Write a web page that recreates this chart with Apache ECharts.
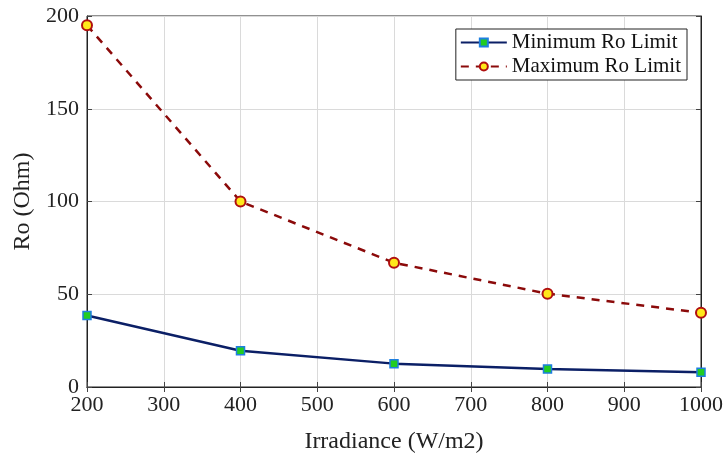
<!DOCTYPE html>
<html>
<head>
<meta charset="utf-8">
<script src="https://cdn.jsdelivr.net/npm/echarts@6/dist/echarts.min.js"></script>
<style>html,body{margin:0;padding:0;background:#fff;}#c{width:726px;height:459px;}</style>
</head>
<body>
<div id="c"></div>
<script>
const irradiance = [200, 400, 600, 800, 1000];
const minRo = [38.5, 19.5, 12.6, 9.7, 7.9];
const maxRo = [195, 100, 67, 50.3, 40];
const seriesNames = ['Minimum Ro Limit', 'Maximum Ro Limit'];
const xTitle = 'Irradiance (W/m2)';
const yTitle = 'Ro (Ohm)';

const font = 'Liberation Serif';
const chart = echarts.init(document.getElementById('c'));
const pairs = a => irradiance.map((x, i) => [x, a[i]]);
const gridLine = { show: true, lineStyle: { color: '#dadada', width: 1 } };
const plain = v => String(v);
chart.setOption({
  animation: false,
  backgroundColor: '#fff',
  grid: { left: 87, right: 25, top: 16, bottom: 72, show: true, borderColor: '#222', borderWidth: 1 },
  legend: {
    right: 39, top: 29,
    orient: 'vertical',
    backgroundColor: '#fff',
    borderColor: '#222', borderWidth: 1,
    padding: [3, 6, 3, 4],
    itemGap: 3,
    itemWidth: 46, itemHeight: 10,
    textStyle: { fontFamily: font, fontSize: 21, color: '#111' },
    data: seriesNames
  },
  xAxis: [{
    type: 'value', min: 200, max: 1000, interval: 100,
    name: xTitle, nameLocation: 'middle', nameGap: 43,
    nameTextStyle: { fontFamily: font, fontSize: 24, color: '#222' },
    axisLine: { show: true, lineStyle: { color: '#222' } },
    axisTick: { show: true, inside: true, length: 5, lineStyle: { color: '#444' } },
    axisLabel: { fontFamily: font, fontSize: 22, color: '#222', margin: 7, formatter: plain },
    splitLine: gridLine
  }, {
    type: 'value', min: 200, max: 1000, interval: 100, position: 'top',
    axisLine: { show: true, lineStyle: { color: '#222' } },
    axisTick: { show: true, inside: true, length: 5, lineStyle: { color: '#444' } },
    axisLabel: { show: false }, splitLine: { show: false }
  }],
  yAxis: [{
    type: 'value', min: 0, max: 200, interval: 50,
    name: yTitle, nameLocation: 'middle', nameGap: 50, nameRotate: 90,
    nameTextStyle: { fontFamily: font, fontSize: 24, color: '#222' },
    axisLine: { show: true, lineStyle: { color: '#222' } },
    axisTick: { show: true, inside: true, length: 5, lineStyle: { color: '#444' } },
    axisLabel: { fontFamily: font, fontSize: 22, color: '#222', margin: 8, formatter: plain },
    splitLine: gridLine
  }, {
    type: 'value', min: 0, max: 200, interval: 50, position: 'right',
    axisLine: { show: true, lineStyle: { color: '#222' } },
    axisTick: { show: true, inside: true, length: 5, lineStyle: { color: '#444' } },
    axisLabel: { show: false }, splitLine: { show: false }
  }],
  series: [{
    name: seriesNames[0], type: 'line', data: pairs(minRo),
    symbol: 'rect', symbolSize: 8,
    lineStyle: { color: '#0b1f66', width: 2.5 },
    itemStyle: { color: '#22cc22', borderColor: '#1e7fe0', borderWidth: 1.5 }
  }, {
    name: seriesNames[1], type: 'line', data: pairs(maxRo),
    symbol: 'circle', symbolSize: 10,
    lineStyle: { color: '#8b0a0a', width: 2.5, type: [8, 7] },
    itemStyle: { color: '#ffe81a', borderColor: '#b01010', borderWidth: 2 }
  }]
});
</script>
</body>
</html>
